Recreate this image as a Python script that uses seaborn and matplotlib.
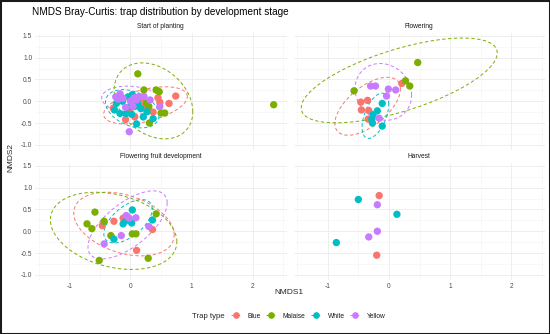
import numpy as np
import pandas as pd
import matplotlib
matplotlib.use("Agg")
import matplotlib.pyplot as plt
from matplotlib.lines import Line2D
from matplotlib.patches import Rectangle
import seaborn as sns

# ---- data (NMDS scores) ----
stages = ["Start of planting", "Flowering", "Flowering fruit development", "Harvest"]
traps = ["Blue", "Malaise", "White", "Yellow"]
trap_colors = ["#F8766D", "#7CAE00", "#00BFC4", "#C77CFF"]

planting_blue = [(-0.28, -0.16), (-0.08, -0.42), (0.07, -0.36), (-0.01, -0.2), (0.13, 0.03),
                 (0.19, 0.06), (0.29, -0.2), (0.37, -0.25), (0.48, -0.03), (0.63, -0.05),
                 (0.74, 0.12), (0.1, 0.08), (0.22, -0.1), (0.45, 0.08)]
planting_malaise = [(0.12, 0.63), (0.22, 0.26), (0.42, 0.26), (0.47, 0.22), (0.26, -0.04),
                    (0.3, -0.12), (0.5, -0.27), (0.56, -0.27), (0.31, -0.5), (2.34, -0.08)]
planting_white = [(-0.23, -0.05), (-0.26, -0.2), (-0.17, -0.28), (-0.07, -0.28), (0.0, -0.12),
                  (0.07, -0.12), (0.12, -0.05), (0.03, 0.15), (-0.04, 0.1), (0.21, -0.36),
                  (0.37, -0.4), (0.1, -0.52), (0.27, -0.24), (0.17, -0.17), (-0.13, 0.0),
                  (0.02, -0.3)]
planting_yellow = [(-0.24, 0.1), (-0.17, 0.17), (-0.12, 0.07), (-0.2, 0.05), (-0.08, -0.14),
                   (0.0, 0.0), (0.1, 0.03), (0.14, 0.11), (0.22, 0.11), (0.32, 0.03),
                   (0.48, -0.12), (0.04, -0.12), (-0.02, -0.7), (0.06, 0.08)]

flowering_blue = [(0.21, 0.41), (-0.46, -0.02), (-0.35, 0.02), (-0.45, -0.2), (-0.33, -0.21),
                  (-0.34, -0.41)]
flowering_malaise = [(-0.57, 0.24), (0.27, 0.47), (0.34, 0.35), (0.47, 0.89)]
flowering_white = [(-0.11, -0.05), (-0.19, -0.22), (-0.26, -0.31), (-0.28, -0.41),
                   (-0.27, -0.5), (-0.11, -0.57)]
flowering_yellow = [(-0.3, 0.35), (-0.22, 0.35), (-0.01, 0.28), (0.11, 0.26), (-0.04, 0.12),
                    (-0.16, -0.39)]

fruit_blue = [(-0.46, 0.13), (-0.27, 0.23), (-0.12, 0.3), (-0.05, 0.34), (0.36, 0.04),
              (0.1, -0.44)]
fruit_malaise = [(-0.58, 0.44), (-0.71, 0.17), (-0.63, 0.06), (-0.43, 0.23), (-0.32, -0.1),
                 (-0.51, -0.67), (0.03, -0.06), (0.09, -0.06), (0.42, 0.4), (0.29, -0.62)]
fruit_white = [(0.03, 0.49), (-0.12, 0.17), (-0.07, 0.25), (0.02, 0.19), (-0.27, -0.18),
               (0.36, 0.26), (-0.04, 0.3)]
fruit_yellow = [(-0.07, 0.36), (0.09, 0.31), (-0.15, -0.1), (0.3, 0.11), (-0.43, -0.29),
                (-0.02, 0.3)]

harvest_blue = [(-0.16, 0.82), (-0.2, -0.55)]
harvest_malaise = []
harvest_white = [(-0.5, 0.73), (0.13, 0.39), (-0.86, -0.26)]
harvest_yellow = [(-0.19, 0.61), (-0.19, 0.0), (-0.33, -0.13)]

groups = {
    "Start of planting": [planting_blue, planting_malaise, planting_white, planting_yellow],
    "Flowering": [flowering_blue, flowering_malaise, flowering_white, flowering_yellow],
    "Flowering fruit development": [fruit_blue, fruit_malaise, fruit_white, fruit_yellow],
    "Harvest": [harvest_blue, harvest_malaise, harvest_white, harvest_yellow],
}

rows = []
for stage in stages:
    for trap, pts in zip(traps, groups[stage]):
        for x, y in pts:
            rows.append({"stage": stage, "trap": trap, "NMDS1": x, "NMDS2": y})
df = pd.DataFrame(rows)


# ---- stat_ellipse (type = "t") equivalent ----
def cov_trob(pts, nu=5, maxit=25, tol=0.01):
    n, p = pts.shape
    wt = np.ones(n)
    loc = pts.mean(axis=0)
    w = np.sqrt(wt)
    for _ in range(maxit):
        w0 = w
        X = pts - loc
        _, d, vt = np.linalg.svd(np.sqrt(w / w.sum())[:, None] * X, full_matrices=False)
        wX = X @ vt.T @ np.diag(1 / d)
        Q = (wX ** 2).sum(axis=1)
        w = (wt * (nu + p)) / (nu + Q)
        loc = (w[:, None] * pts).sum(axis=0) / w.sum()
        if np.all(np.abs(w - w0) < tol):
            break
    sX = np.sqrt(w)[:, None] * X
    return sX.T @ sX / wt.sum(), loc


def ellipse_path(pts, level=0.95, segments=51):
    pts = np.asarray(pts, dtype=float)
    shape, center = cov_trob(pts)
    dfd = len(pts) - 1
    fq = dfd / 2 * ((1 - level) ** (-2 / dfd) - 1)   # qf(level, 2, dfd)
    radius = np.sqrt(2 * fq)
    chol = np.linalg.cholesky(shape).T
    ang = np.linspace(0, 2 * np.pi, segments + 1)
    circle = np.column_stack([np.cos(ang), np.sin(ang)])
    return center + radius * circle @ chol


# ---- figure ----
sns.set_theme(style="whitegrid")
plt.rcParams["font.family"] = ["Liberation Sans", "DejaVu Sans"]

W, H = 550, 334
fig = plt.figure(figsize=(W / 100, H / 100), dpi=100)
fig.patch.set_facecolor("white")

xlim = (-1.56, 2.55)
ylim = (-1.12, 1.58)
panel_w, panel_h = 251.5, 117.5
lefts = [35, 293.5]
bottoms = [150, 280]
palette = dict(zip(traps, trap_colors))

for i, stage in enumerate(stages):
    r, c = divmod(i, 2)
    ax = fig.add_axes([lefts[c] / W, 1 - bottoms[r] / H, panel_w / W, panel_h / H])
    ax.set_facecolor("white")
    sub = df[df["stage"] == stage]

    for trap, pts in zip(traps, groups[stage]):
        if len(pts) >= 4:
            e = ellipse_path(pts)
            ax.plot(e[:, 0], e[:, 1], color=palette[trap], lw=0.7,
                    ls=(0, (3.5, 2.5)), zorder=2)

    sns.scatterplot(data=sub, x="NMDS1", y="NMDS2", hue="trap", palette=palette,
                    hue_order=traps, s=28, linewidth=0, legend=False, ax=ax, zorder=3)

    ax.set_xlim(xlim)
    ax.set_ylim(ylim)
    ax.set_xticks([-1, 0, 1, 2])
    ax.set_xticks([-1.5, -0.5, 0.5, 1.5, 2.5], minor=True)
    ax.set_yticks([-1.0, -0.5, 0.0, 0.5, 1.0, 1.5])
    ax.set_yticks([-0.75, -0.25, 0.25, 0.75, 1.25], minor=True)
    ax.grid(True, which="major", color="#EBEBEB", lw=0.6)
    ax.grid(True, which="minor", color="#F3F3F3", lw=0.4)
    for s in ax.spines.values():
        s.set_visible(False)
    ax.tick_params(which="both", length=0, labelsize=4.8, labelcolor="#4D4D4D", pad=2)
    ax.set_yticklabels(["-1.0", "-0.5", "0.0", "0.5", "1.0", "1.5"])
    ax.set_xticklabels(["-1", "0", "1", "2"])
    if c == 1:
        ax.tick_params(labelleft=False)
    if r == 0:
        ax.tick_params(labelbottom=False)
    ax.set_xlabel("")
    ax.set_ylabel("")
    ax.set_title(stage, fontsize=4.8, color="#1A1A1A", pad=3)

fig.text(32 / W, 1 - 12 / H, "NMDS Bray-Curtis: trap distribution by development stage",
         fontsize=7.2, color="#000000", va="center", ha="left")
fig.text(11 / W, 1 - 157 / H, "NMDS2", rotation=90, fontsize=6, va="center", ha="center")
fig.text(289 / W, 1 - 293 / H, "NMDS1", fontsize=6, va="center", ha="center")

fig.text(192 / W, 1 - 316 / H, "Trap type", fontsize=5.6, va="center", ha="left")
handles = [Line2D([0], [0], color=col, marker="o", markersize=3.8, lw=0.7, ls="--")
           for col in trap_colors]
fig.legend(handles, traps, loc="center left", bbox_to_anchor=(231 / W, 1 - 316 / H),
           ncol=4, frameon=False, fontsize=4.8, handlelength=1.5, handletextpad=1.0,
           columnspacing=0.8, borderpad=0, borderaxespad=0, labelcolor="#1A1A1A")

fig.add_artist(Rectangle((0, 0), 1, 1, transform=fig.transFigure, fill=False,
                         edgecolor="#1A1A1A", lw=2.2))

fig.savefig("out.png", dpi=100)
